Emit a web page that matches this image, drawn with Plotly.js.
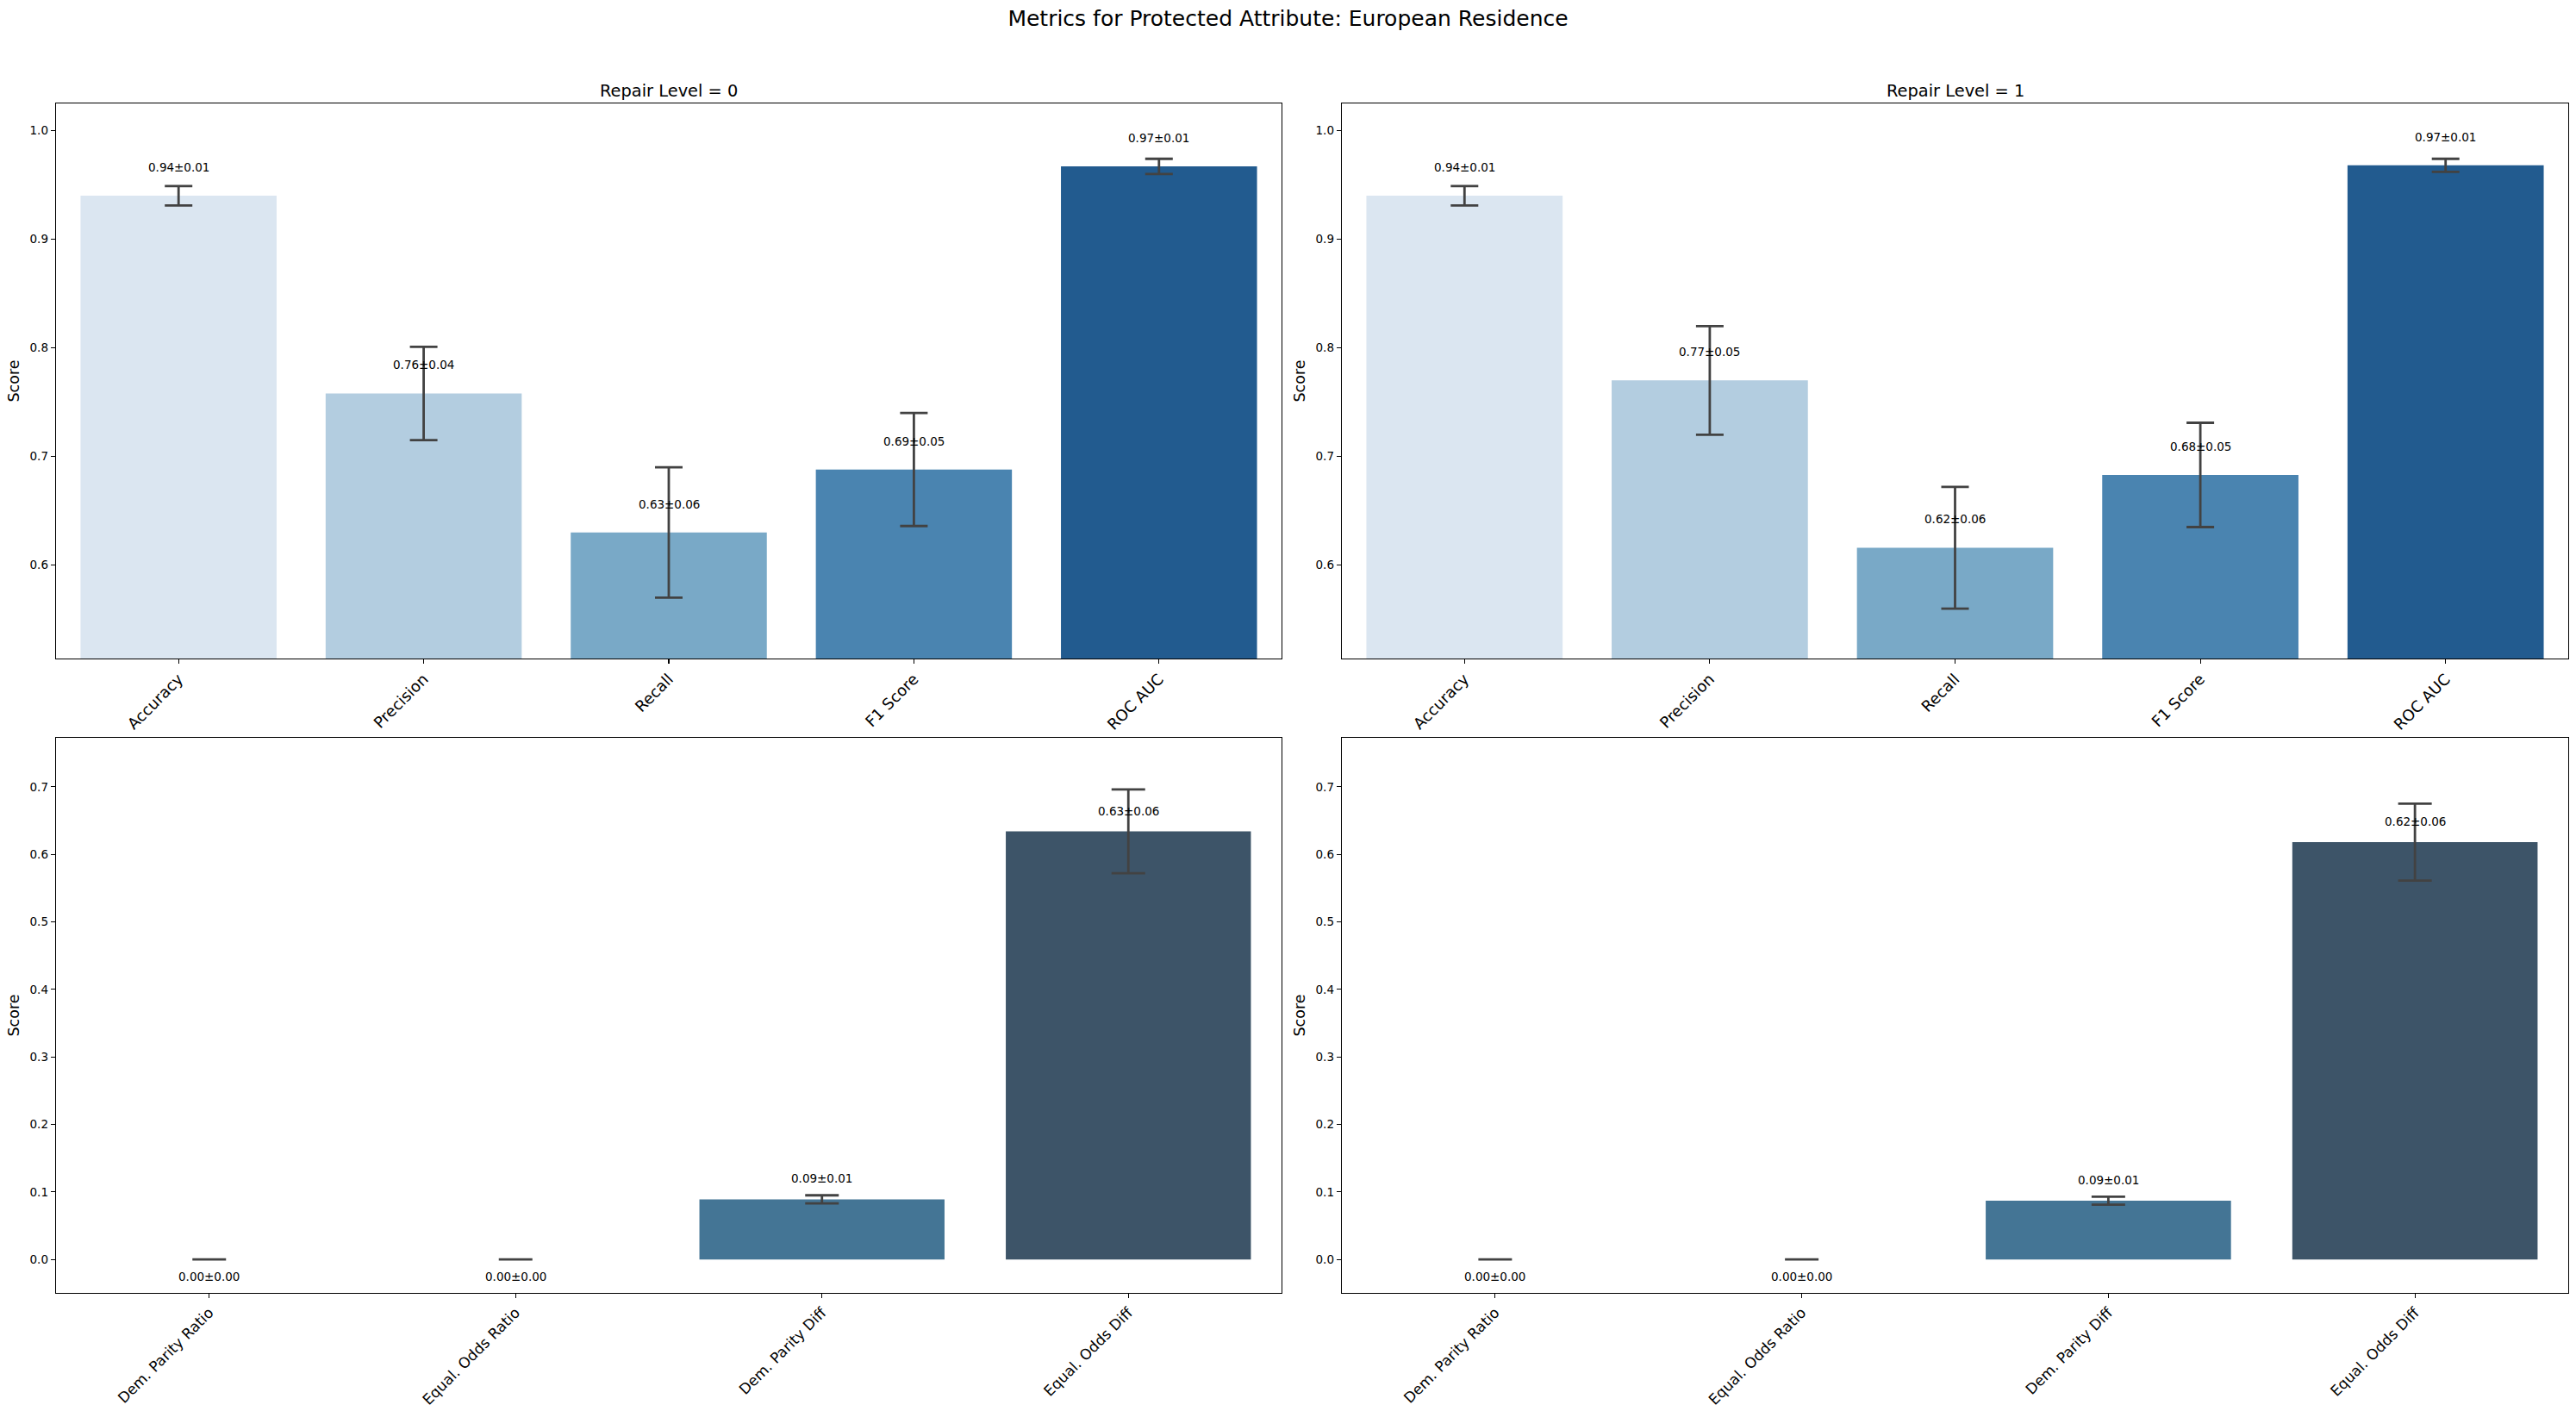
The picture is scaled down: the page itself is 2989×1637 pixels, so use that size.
<!DOCTYPE html>
<html>
<head>
<meta charset="utf-8">
<script src="https://cdn.plot.ly/plotly-3.0.1.min.js"></script>
<style>
  html, body { margin: 0; padding: 0; background: #ffffff; }
  #chart { width: 2989px; height: 1637px; }
</style>
</head>
<body>
<div id="chart"></div>
<script>
// Performance metrics (mean and standard deviation across folds)
const perfCategories = ['Accuracy', 'Precision', 'Recall', 'F1 Score', 'ROC AUC'];
const perfMeanRepair0 = [0.940, 0.758, 0.630, 0.688, 0.967];
const perfStdRepair0  = [0.009, 0.043, 0.060, 0.052, 0.007];
const perfMeanRepair1 = [0.940, 0.770, 0.616, 0.683, 0.968];
const perfStdRepair1  = [0.009, 0.050, 0.056, 0.048, 0.006];

// Fairness metrics
const fairCategories = ['Dem. Parity Ratio', 'Equal. Odds Ratio', 'Dem. Parity Diff', 'Equal. Odds Diff'];
const fairMeanRepair0 = [0.000, 0.000, 0.089, 0.634];
const fairStdRepair0  = [0.000, 0.000, 0.006, 0.062];
const fairMeanRepair1 = [0.000, 0.000, 0.087, 0.618];
const fairStdRepair1  = [0.000, 0.000, 0.006, 0.057];

const repairLevels = [0, 1];
const attributeName = 'European Residence';

// Styling
const perfColors = ['#dbe6f1', '#b3cde0', '#79a9c7', '#4a84b0', '#225b8f'];
const fairColors = ['#6d9cc0', '#56889f', '#447595', '#3d5468'];
const FONT = 'DejaVu Sans, Liberation Sans, sans-serif';
const W = 2989, H = 1637;

// Panel geometry in pixels: [left, right] and [top, bottom]
const colsPx = [[65, 1487], [1557, 2980]];
const rowsPx = [[120, 764], [856, 1500]];
const xdom = c => [colsPx[c][0] / W, colsPx[c][1] / W];
const ydom = r => [1 - rowsPx[r][1] / H, 1 - rowsPx[r][0] / H];

const panels = [
  {row: 0, col: 0, cats: perfCategories, mean: perfMeanRepair0, std: perfStdRepair0, colors: perfColors, range: [0.514, 1.025], ticks: [0.6, 0.7, 0.8, 0.9, 1.0], cap: 16, lab: 33, xfont: 18},
  {row: 0, col: 1, cats: perfCategories, mean: perfMeanRepair1, std: perfStdRepair1, colors: perfColors, range: [0.514, 1.025], ticks: [0.6, 0.7, 0.8, 0.9, 1.0], cap: 16, lab: 33, xfont: 18},
  {row: 1, col: 0, cats: fairCategories, mean: fairMeanRepair0, std: fairStdRepair0, colors: fairColors, range: [-0.0496, 0.7725], ticks: [0, 0.1, 0.2, 0.3, 0.4, 0.5, 0.6, 0.7], cap: 19.5, lab: 24, xfont: 17},
  {row: 1, col: 1, cats: fairCategories, mean: fairMeanRepair1, std: fairStdRepair1, colors: fairColors, range: [-0.0496, 0.7725], ticks: [0, 0.1, 0.2, 0.3, 0.4, 0.5, 0.6, 0.7], cap: 19.5, lab: 24, xfont: 17}
];

const traces = [];
const annotations = [];
const layout = {
  width: W, height: H,
  margin: {l: 0, r: 0, t: 0, b: 0},
  paper_bgcolor: '#ffffff',
  plot_bgcolor: '#ffffff',
  showlegend: false,
  bargap: 0.2,
  font: {family: FONT, color: '#000000'},
  title: {
    text: 'Metrics for Protected Attribute: ' + attributeName,
    x: 0.5, xanchor: 'center', y: 1 - 21 / H, yanchor: 'middle',
    font: {family: FONT, size: 25, color: '#000000'}
  }
};

panels.forEach((p, i) => {
  const n = i + 1;
  const xa = 'x' + (n === 1 ? '' : n);
  const ya = 'y' + (n === 1 ? '' : n);
  traces.push({
    type: 'bar',
    x: p.cats,
    y: p.mean,
    xaxis: xa, yaxis: ya,
    marker: {color: p.colors, line: {width: 0}},
    error_y: {type: 'data', array: p.std, visible: true, color: '#424242', thickness: 2.8, width: p.cap},
    hoverinfo: 'x+y'
  });

  const axKey = n === 1 ? '' : n;
  layout['xaxis' + axKey] = {
    domain: xdom(p.col), anchor: ya, type: 'category',
    range: [-0.5, p.cats.length - 0.5],
    showgrid: false, zeroline: false,
    showline: true, mirror: true, linecolor: '#000000', linewidth: 1.3,
    ticks: 'outside', ticklen: 5, tickwidth: 1.1, tickcolor: '#000000',
    tickangle: -45,
    tickfont: {family: FONT, size: p.xfont, color: '#000000'}
  };
  layout['yaxis' + axKey] = {
    domain: ydom(p.row), anchor: xa,
    range: p.range, tickmode: 'array', tickvals: p.ticks, tickformat: '.1f',
    showgrid: false, zeroline: false,
    showline: true, mirror: true, linecolor: '#000000', linewidth: 1.3,
    ticks: 'outside', ticklen: 5, tickwidth: 1.1, tickcolor: '#000000',
    tickfont: {family: FONT, size: 13.5, color: '#000000'},
    title: {text: 'Score', font: {family: FONT, size: 17.5, color: '#000000'}, standoff: 7}
  };

  // value labels: mean ± std above each bar (below the baseline for zero values)
  p.cats.forEach((c, k) => {
    const m = p.mean[k], s = p.std[k];
    annotations.push({
      xref: xa, yref: ya, x: c, y: m,
      text: m.toFixed(2) + '±' + s.toFixed(2),
      showarrow: false, xanchor: 'center', yanchor: 'middle',
      yshift: m > 0 ? p.lab : -20,
      font: {family: FONT, size: 13.5, color: '#000000'}
    });
  });
});

// Column titles
repairLevels.forEach((lvl, c) => {
  const d = xdom(c);
  annotations.push({
    xref: 'paper', yref: 'paper', x: (d[0] + d[1]) / 2, y: 1 - 105 / H,
    xanchor: 'center', yanchor: 'middle', showarrow: false,
    text: 'Repair Level = ' + lvl,
    font: {family: FONT, size: 19.4, color: '#000000'}
  });
});

layout.annotations = annotations;

Plotly.newPlot('chart', traces, layout, {displayModeBar: false, staticPlot: true});
</script>
</body>
</html>
